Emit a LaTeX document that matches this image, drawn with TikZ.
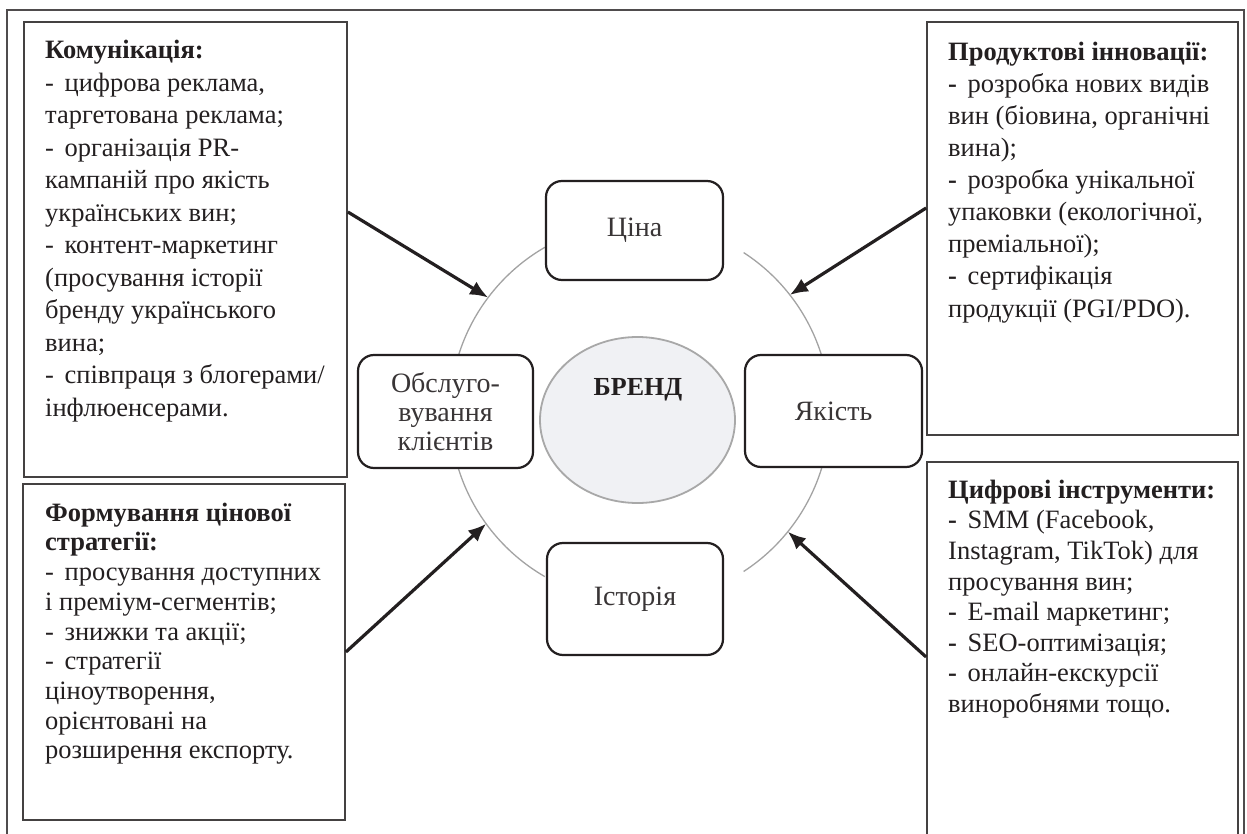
\documentclass[tikz,border=0pt]{standalone}
\usepackage{fontspec}
\setmainfont{Liberation Serif}
\usetikzlibrary{arrows.meta,shapes.geometric}
\definecolor{ink}{HTML}{231F20}
\definecolor{ringgray}{HTML}{A3A3A3}
\definecolor{brandfill}{HTML}{F0F1F4}
\definecolor{brandline}{HTML}{A8A8A8}
\tikzset{
  tbox/.style={draw=ink!85, line width=1.8pt, fill=white, minimum width=#1, inner sep=0pt},
  rbox/.style={draw=ink, line width=2.2pt, rounded corners=16pt, fill=white, inner sep=0pt, align=center,
    text=ink!90, font=\fontsize{28}{29}\selectfont},
  txt/.style={anchor=north west, align=left, inner sep=0pt, text=ink, font=\fontsize{26.5}{#1}\selectfont},
  arr/.style={draw=ink, line width=3.2pt, -{Latex[length=18pt,width=15pt]}},
  ringarc/.style={draw=ringgray, line width=1.3pt}
}
\newcommand{\dsh}{-\hspace{0.4em}}
\newcommand{\bdsh}{\textbf{-}\hspace{0.4em}}
\newcommand{\fl}{\rule{0pt}{20pt}}
\begin{document}
\begin{tikzpicture}[x=1pt,y=1pt]
\useasboundingbox (0,0) rectangle (1247,-834);
\fill[white] (0,0) rectangle (1247,-834);
\begin{scope}
\clip (0,0) rectangle (1247,-834);
\draw[draw=ink!80, line width=1.5pt] (7,-10) rectangle (1244,-860);
\end{scope}

% ring
\coordinate (c0) at (640,-412);
\node[circle, minimum size=380pt, draw=none, inner sep=0pt] (ring) at (c0) {};
\draw[ringarc] (ring.120) arc[start angle=120, end angle=163, radius=190pt];
\draw[ringarc] (ring.17) arc[start angle=17, end angle=57, radius=190pt];
\draw[ringarc] (ring.-57) arc[start angle=-57, end angle=-17, radius=190pt];
\draw[ringarc] (ring.-163) arc[start angle=-163, end angle=-120, radius=190pt];

% central items
\node[rbox, minimum width=177pt, minimum height=99pt] (cina) at (634.5,-230.5) {Ціна};
\node[rbox, minimum width=177pt, minimum height=112pt] (yakist) at (833.5,-411) {Якість};
\node[rbox, minimum width=175pt, minimum height=113pt] (obsl) at (445.5,-411.5) {Обслуго-\\вування\\клієнтів};
\node[rbox, minimum width=176pt, minimum height=112pt] (ist) at (635,-599) {Історія};
\node[ellipse, draw=brandline, line width=1.8pt, fill=brandfill, minimum width=195pt, minimum height=166pt, inner sep=0pt] (brand) at (637.5,-420) {};
\node[anchor=base, inner sep=0pt, text=ink, font=\fontsize{26}{28}\selectfont\bfseries] (brandt) at (638,-395) {БРЕНД};

% text boxes
\node[tbox=323pt, minimum height=455pt] (tl) at (185.5,-249.5) {};
\node[tbox=322pt, minimum height=336pt] (bl) at (184,-652) {};
\node[tbox=311pt, minimum height=413pt] (tr) at (1082.5,-228.5) {};
\node[tbox=311pt, minimum height=390pt] (br) at (1082.5,-657) {};

\node[txt=32.5] (tlt) at (45,-38.5) {\fl\textbf{Комунікація:}\\
\dsh цифрова реклама,\\
таргетована реклама;\\
\dsh організація PR-\\
кампаній про якість\\
українських вин;\\
\dsh контент-маркетинг\\
(просування історії\\
бренду українського\\
вина;\\
\dsh співпраця з блогерами/\\
інфлюенсерами.};

\node[txt=29.7] (blt) at (45,-501) {\fl\textbf{Формування цінової}\\
\textbf{стратегії:}\\
\dsh просування доступних\\
і преміум-сегментів;\\
\dsh знижки та акції;\\
\dsh стратегії\\
ціноутворення,\\
орієнтовані на\\
розширення експорту.};

\node[txt=32.1] (trt) at (948,-40) {\fl\textbf{Продуктові інновації:}\\
\bdsh розробка нових видів\\
вин (біовина, органічні\\
вина);\\
\bdsh розробка унікальної\\
упаковки (екологічної,\\
преміальної);\\
\bdsh сертифікація\\
продукції (PGI/PDO).};

\node[txt=30.6] (brt) at (948,-478) {\fl\textbf{Цифрові інструменти:}\\
\bdsh SMM (Facebook,\\
Instagram, TikTok) для\\
просування вин;\\
\bdsh E-mail маркетинг;\\
\bdsh SEO-оптимізація;\\
\bdsh онлайн-екскурсії\\
виноробнями тощо.};

% arrows
\draw[arr] ([yshift=37.5pt]tl.east) -- (ring.143);
\draw[arr] ([yshift=20.5pt]tr.west) -- (ring.38);
\draw[arr] (bl.east) -- (ring.216);
\draw[arr] (br.west) -- (ring.321);
\end{tikzpicture}
\end{document}
